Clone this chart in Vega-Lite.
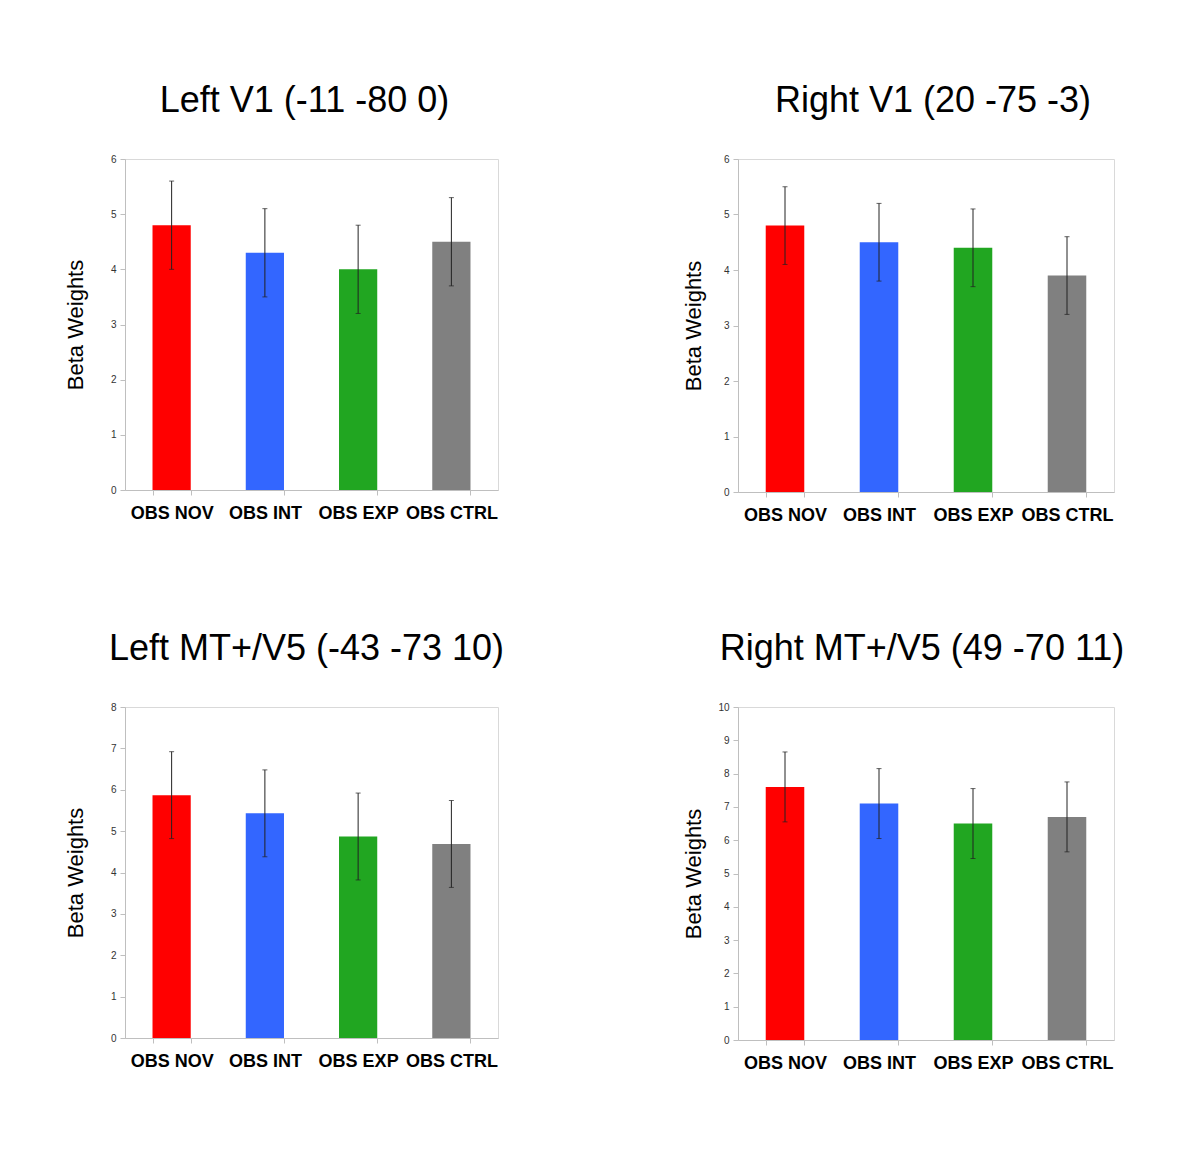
{
  "$schema": "https://vega.github.io/schema/vega-lite/v6.json",
  "background": "white",
  "padding": {"left": 63, "top": 82, "right": 20, "bottom": 20},
  "config": {
    "font": "Liberation Sans",
    "view": {"stroke": "#d9d9d9", "strokeWidth": 1},
    "title": {"fontSize": 36, "fontWeight": "normal", "color": "black", "offset": 34, "anchor": "middle"},
    "axisY": {"domainColor": "#bfbfbf", "tickColor": "#bfbfbf", "tickSize": 5, "labelFontSize": 10, "labelColor": "#333", "labelPadding": 4, "grid": false, "titleFontSize": 22, "titleFontWeight": "normal", "titleColor": "black", "titlePadding": 18, "minExtent": 20, "maxExtent": 20, "format": "d"},
    "axisX": {"domainColor": "#bfbfbf", "tickColor": "#bfbfbf", "tickSize": 5, "tickBand": "extent", "labelFontSize": 18, "labelFontWeight": "bold", "labelColor": "black", "labelPadding": 9, "labelAngle": 0, "grid": false, "title": null}
  },
  "data": {"values": [
    {"region": "LV1", "cond": "OBS NOV", "beta": 4.8, "lo": 4.0, "hi": 5.6},
    {"region": "LV1", "cond": "OBS INT", "beta": 4.3, "lo": 3.5, "hi": 5.1},
    {"region": "LV1", "cond": "OBS EXP", "beta": 4.0, "lo": 3.2, "hi": 4.8},
    {"region": "LV1", "cond": "OBS CTRL", "beta": 4.5, "lo": 3.7, "hi": 5.3},
    {"region": "RV1", "cond": "OBS NOV", "beta": 4.8, "lo": 4.1, "hi": 5.5},
    {"region": "RV1", "cond": "OBS INT", "beta": 4.5, "lo": 3.8, "hi": 5.2},
    {"region": "RV1", "cond": "OBS EXP", "beta": 4.4, "lo": 3.7, "hi": 5.1},
    {"region": "RV1", "cond": "OBS CTRL", "beta": 3.9, "lo": 3.2, "hi": 4.6},
    {"region": "LMT", "cond": "OBS NOV", "beta": 5.87, "lo": 4.82, "hi": 6.92},
    {"region": "LMT", "cond": "OBS INT", "beta": 5.43, "lo": 4.38, "hi": 6.48},
    {"region": "LMT", "cond": "OBS EXP", "beta": 4.87, "lo": 3.82, "hi": 5.92},
    {"region": "LMT", "cond": "OBS CTRL", "beta": 4.69, "lo": 3.64, "hi": 5.74},
    {"region": "RMT", "cond": "OBS NOV", "beta": 7.6, "lo": 6.55, "hi": 8.65},
    {"region": "RMT", "cond": "OBS INT", "beta": 7.1, "lo": 6.05, "hi": 8.15},
    {"region": "RMT", "cond": "OBS EXP", "beta": 6.5, "lo": 5.45, "hi": 7.55},
    {"region": "RMT", "cond": "OBS CTRL", "beta": 6.7, "lo": 5.65, "hi": 7.75}
  ]},
  "vconcat": [
    {"spacing": 182, "hconcat": [
      {
        "title": {"text": "Left V1 (-11 -80 0)", "dx": -7},
        "width": 373, "height": 331,
        "transform": [{"filter": "datum.region == 'LV1'"}],
        "encoding": {"x": {"field": "cond", "type": "nominal", "sort": ["OBS NOV", "OBS INT", "OBS EXP", "OBS CTRL"], "scale": {"paddingInner": 0.59, "paddingOuter": 0.295}}},
        "layer": [
          {"mark": {"type": "bar"}, "encoding": {
            "y": {"field": "beta", "type": "quantitative", "scale": {"domain": [0, 6]}, "axis": {"values": [0, 1, 2, 3, 4, 5, 6], "title": "Beta Weights"}},
            "color": {"field": "cond", "type": "nominal", "scale": {"domain": ["OBS NOV", "OBS INT", "OBS EXP", "OBS CTRL"], "range": ["#ff0000", "#3366ff", "#21a621", "#808080"]}, "legend": null}}},
          {"mark": {"type": "rule", "color": "#222", "strokeWidth": 1}, "encoding": {"y": {"field": "lo", "type": "quantitative", "axis": {"values": [0, 1, 2, 3, 4, 5, 6], "title": "Beta Weights"}}, "y2": {"field": "hi"}}},
          {"mark": {"type": "tick", "color": "#222", "thickness": 1, "size": 5}, "encoding": {"y": {"field": "lo", "type": "quantitative", "axis": {"values": [0, 1, 2, 3, 4, 5, 6], "title": "Beta Weights"}}}},
          {"mark": {"type": "tick", "color": "#222", "thickness": 1, "size": 5}, "encoding": {"y": {"field": "hi", "type": "quantitative", "axis": {"values": [0, 1, 2, 3, 4, 5, 6], "title": "Beta Weights"}}}}
        ]
      },
      {
        "title": {"text": "Right V1 (20 -75 -3)", "dx": 7},
        "width": 376, "height": 333,
        "transform": [{"filter": "datum.region == 'RV1'"}],
        "encoding": {"x": {"field": "cond", "type": "nominal", "sort": ["OBS NOV", "OBS INT", "OBS EXP", "OBS CTRL"], "scale": {"paddingInner": 0.59, "paddingOuter": 0.295}}},
        "layer": [
          {"mark": {"type": "bar"}, "encoding": {
            "y": {"field": "beta", "type": "quantitative", "scale": {"domain": [0, 6]}, "axis": {"values": [0, 1, 2, 3, 4, 5, 6], "title": "Beta Weights", "titlePadding": 13}},
            "color": {"field": "cond", "type": "nominal", "scale": {"domain": ["OBS NOV", "OBS INT", "OBS EXP", "OBS CTRL"], "range": ["#ff0000", "#3366ff", "#21a621", "#808080"]}, "legend": null}}},
          {"mark": {"type": "rule", "color": "#222", "strokeWidth": 1}, "encoding": {"y": {"field": "lo", "type": "quantitative", "axis": {"values": [0, 1, 2, 3, 4, 5, 6], "title": "Beta Weights", "titlePadding": 13}}, "y2": {"field": "hi"}}},
          {"mark": {"type": "tick", "color": "#222", "thickness": 1, "size": 5}, "encoding": {"y": {"field": "lo", "type": "quantitative", "axis": {"values": [0, 1, 2, 3, 4, 5, 6], "title": "Beta Weights", "titlePadding": 13}}}},
          {"mark": {"type": "tick", "color": "#222", "thickness": 1, "size": 5}, "encoding": {"y": {"field": "hi", "type": "quantitative", "axis": {"values": [0, 1, 2, 3, 4, 5, 6], "title": "Beta Weights", "titlePadding": 13}}}}
        ]
      }
    ]},
    {"spacing": 176, "hconcat": [
      {
        "title": {"text": "Left MT+/V5 (-43 -73 10)", "dx": -5},
        "width": 373, "height": 331,
        "transform": [{"filter": "datum.region == 'LMT'"}],
        "encoding": {"x": {"field": "cond", "type": "nominal", "sort": ["OBS NOV", "OBS INT", "OBS EXP", "OBS CTRL"], "scale": {"paddingInner": 0.59, "paddingOuter": 0.295}}},
        "layer": [
          {"mark": {"type": "bar"}, "encoding": {
            "y": {"field": "beta", "type": "quantitative", "scale": {"domain": [0, 8]}, "axis": {"values": [0, 1, 2, 3, 4, 5, 6, 7, 8], "title": "Beta Weights"}},
            "color": {"field": "cond", "type": "nominal", "scale": {"domain": ["OBS NOV", "OBS INT", "OBS EXP", "OBS CTRL"], "range": ["#ff0000", "#3366ff", "#21a621", "#808080"]}, "legend": null}}},
          {"mark": {"type": "rule", "color": "#222", "strokeWidth": 1}, "encoding": {"y": {"field": "lo", "type": "quantitative", "axis": {"values": [0, 1, 2, 3, 4, 5, 6, 7, 8], "title": "Beta Weights"}}, "y2": {"field": "hi"}}},
          {"mark": {"type": "tick", "color": "#222", "thickness": 1, "size": 5}, "encoding": {"y": {"field": "lo", "type": "quantitative", "axis": {"values": [0, 1, 2, 3, 4, 5, 6, 7, 8], "title": "Beta Weights"}}}},
          {"mark": {"type": "tick", "color": "#222", "thickness": 1, "size": 5}, "encoding": {"y": {"field": "hi", "type": "quantitative", "axis": {"values": [0, 1, 2, 3, 4, 5, 6, 7, 8], "title": "Beta Weights"}}}}
        ]
      },
      {
        "title": {"text": "Right MT+/V5 (49 -70 11)", "dx": -4},
        "width": 376, "height": 333,
        "transform": [{"filter": "datum.region == 'RMT'"}],
        "encoding": {"x": {"field": "cond", "type": "nominal", "sort": ["OBS NOV", "OBS INT", "OBS EXP", "OBS CTRL"], "scale": {"paddingInner": 0.59, "paddingOuter": 0.295}}},
        "layer": [
          {"mark": {"type": "bar"}, "encoding": {
            "y": {"field": "beta", "type": "quantitative", "scale": {"domain": [0, 10]}, "axis": {"values": [0, 1, 2, 3, 4, 5, 6, 7, 8, 9, 10], "title": "Beta Weights", "titlePadding": 13, "labelOverlap": false}},
            "color": {"field": "cond", "type": "nominal", "scale": {"domain": ["OBS NOV", "OBS INT", "OBS EXP", "OBS CTRL"], "range": ["#ff0000", "#3366ff", "#21a621", "#808080"]}, "legend": null}}},
          {"mark": {"type": "rule", "color": "#222", "strokeWidth": 1}, "encoding": {"y": {"field": "lo", "type": "quantitative", "axis": {"values": [0, 1, 2, 3, 4, 5, 6, 7, 8, 9, 10], "title": "Beta Weights", "titlePadding": 13, "labelOverlap": false}}, "y2": {"field": "hi"}}},
          {"mark": {"type": "tick", "color": "#222", "thickness": 1, "size": 5}, "encoding": {"y": {"field": "lo", "type": "quantitative", "axis": {"values": [0, 1, 2, 3, 4, 5, 6, 7, 8, 9, 10], "title": "Beta Weights", "titlePadding": 13, "labelOverlap": false}}}},
          {"mark": {"type": "tick", "color": "#222", "thickness": 1, "size": 5}, "encoding": {"y": {"field": "hi", "type": "quantitative", "axis": {"values": [0, 1, 2, 3, 4, 5, 6, 7, 8, 9, 10], "title": "Beta Weights", "titlePadding": 13, "labelOverlap": false}}}}
        ]
      }
    ]}
  ],
  "spacing": 105,
  "resolve": {"scale": {"y": "independent"}}
}
